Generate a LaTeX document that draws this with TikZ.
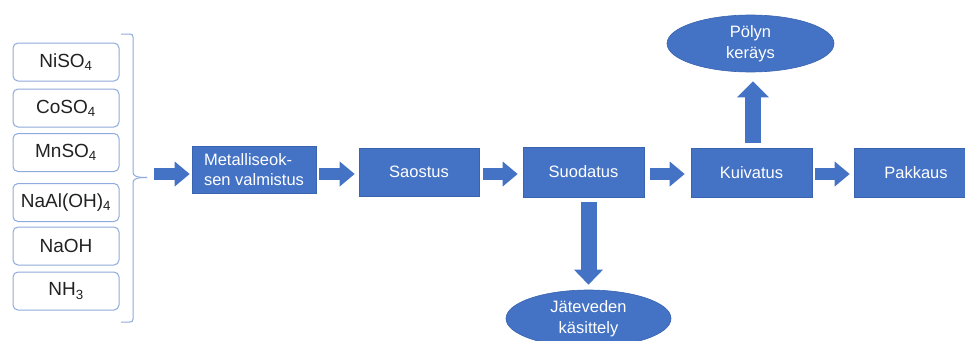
\documentclass[tikz,border=0pt]{standalone}
\usepackage{fontspec}
\setmainfont{Liberation Sans}
\usetikzlibrary{arrows.meta,shapes.geometric,calc}
\definecolor{mainblue}{HTML}{4472C4}
\definecolor{edgeblue}{HTML}{3A64B0}
\definecolor{lightedge}{HTML}{8FAADC}
\definecolor{chemtext}{HTML}{222222}
\begin{document}
\begin{tikzpicture}[x=1pt,y=-1pt,
  chem/.style={draw=lightedge, line width=1pt, rounded corners=5pt, fill=white,
    minimum width=106pt, minimum height=38pt, inner sep=0pt,
    font=\fontsize{19}{22}\selectfont, text=chemtext},
  procbox/.style={draw=edgeblue, line width=0.6pt, fill=mainblue, text=white,
    inner sep=0pt, font=\fontsize{16.5}{20}\selectfont, align=center},
  oval/.style={ellipse, draw=edgeblue, line width=0.6pt, fill=mainblue, text=white,
    inner sep=0pt, font=\fontsize{16.5}{21.5}\selectfont, align=center},
  hflow/.style={draw=mainblue, line width=12pt, -{Triangle[length=15pt,width=24pt]}},
  vflow/.style={draw=mainblue, line width=16pt, -{Triangle[length=15pt,width=29pt]}},
  bracket/.style={draw=lightedge, line width=1pt},
]
\useasboundingbox (0,0) rectangle (965,340);
\fill[white] (0,0) rectangle (965,340);
\clip (0,0) rectangle (965,340);

% input chemicals
\node[chem] (niso) at (66,62) {NiSO\textsubscript{4}};
\node[chem] (coso) at (66,108) {CoSO\textsubscript{4}};
\node[chem] (mnso) at (66,152.5) {MnSO\textsubscript{4}};
\node[chem] (naal) at (66,202.5) {NaAl(OH)\textsubscript{4}};
\node[chem] (naoh) at (66,246) {NaOH};
\node[chem] (nh) at (66,291) {NH\textsubscript{3}};

% brace
\coordinate (bracetip) at (147,177.5);
\draw[bracket] (121,34) -- (130,34) .. controls (132,34) and (133,35) .. (133,37)
  -- (133,172) .. controls (133,176) and (136,177.5) .. (bracetip);
\draw[bracket] (bracetip) .. controls (136,177.5) and (133,179) .. (133,183)
  -- (133,319) .. controls (133,321) and (132,322) .. (130,322) -- (121,322);

% process boxes
\node[procbox, minimum width=124pt, minimum height=47pt, align=left] (metal) at (254,169.5)
  {Metalliseok-\\sen valmistus};
\node[procbox, minimum width=120pt, minimum height=48pt] (saostus) at (419,172) {Saostus};
\node[procbox, minimum width=121pt, minimum height=50pt] (suodatus) at (583.5,172) {Suodatus};
\node[procbox, minimum width=121pt, minimum height=49pt] (kuivatus) at (751.5,172.5) {Kuivatus};
\node[procbox, minimum width=124pt, minimum height=49pt] (pakkaus) at (916,172.5) {Pakkaus};

% side products
\node[oval, minimum width=167pt, minimum height=57pt] (poly) at (750.5,43.5) {Pölyn\\keräys};
\node[oval, minimum width=165pt, minimum height=57pt] (jate) at (588.5,318.5) {Jäteveden\\käsittely};

% flow arrows
\coordinate (flow) at (0,174);
\draw[hflow] ($(bracetip|-flow)+(7,0)$) -- ($(metal.west|-flow)+(-2,0)$);
\draw[hflow] ($(metal.east|-flow)+(3,0)$) -- ($(saostus.west|-flow)+(-4,0)$);
\draw[hflow] ($(saostus.east|-flow)+(4,0)$) -- ($(suodatus.west|-flow)+(-5,0)$);
\draw[hflow] ($(suodatus.east|-flow)+(6,0)$) -- ($(kuivatus.west|-flow)+(-6,0)$);
\draw[hflow] ($(kuivatus.east|-flow)+(3,0)$) -- ($(pakkaus.west|-flow)+(-4,0)$);

\draw[vflow, -{Triangle[length=15pt,width=28pt]}] ($(jate.north|-suodatus.south)+(0,5)$) -- ($(jate.north)+(0,-5)$);
\draw[vflow, -{Triangle[length=16pt,width=31pt]}] ($(kuivatus.north)+(1.5,-5)$) -- ($(kuivatus.north|-poly.south)+(1.5,9)$);
\end{tikzpicture}
\end{document}
